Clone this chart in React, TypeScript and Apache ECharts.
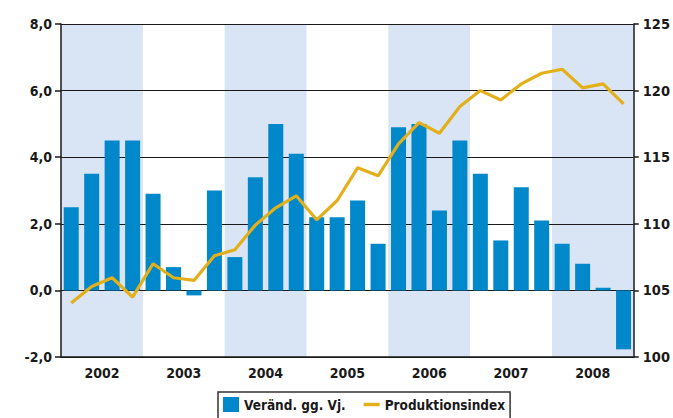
import React, { useEffect, useRef } from "react";
import * as echarts from "echarts";

const years = ["2002", "2003", "2004", "2005", "2006", "2007", "2008"];
const quarters = years.flatMap((y) => ["Q1", "Q2", "Q3", "Q4"].map((q) => `${y} ${q}`));
const changeValues = [
  2.5, 3.5, 4.5, 4.5,
  2.9, 0.7, -0.15, 3.0,
  1.0, 3.4, 5.0, 4.1,
  2.2, 2.2, 2.7, 1.4,
  4.9, 5.0, 2.4, 4.5,
  3.5, 1.5, 3.1, 2.1,
  1.4, 0.8, 0.08, -1.77,
];
const indexValues = [
  104.05, 105.3, 105.95, 104.5,
  107.0, 105.95, 105.75, 107.6,
  108.05, 109.9, 111.2, 112.1,
  110.3, 111.75, 114.2, 113.6,
  116.0, 117.6, 116.8, 118.8,
  120.0, 119.3, 120.5, 121.3,
  121.6, 120.2, 120.5, 119.0,
];
const shadedYears = [1, 0, 1, 0, 1, 0, 1];
const seriesNames = ["Veränd. gg. Vj.", "Produktionsindex"];

const FONT = "'Liberation Sans Narrow', 'DejaVu Sans Condensed', sans-serif";
const BAR = "#0088CB";
const LINE = "#E3AF1A";
const BAND = "#D9E5F4";
const INK = "#1a1a1a";

export default function App() {
  const ref = useRef<HTMLDivElement>(null);
  useEffect(() => {
    if (!ref.current) return;
    const chart = echarts.init(ref.current, null, { renderer: "svg" });
    chart.setOption({
      animation: false,
      textStyle: { fontFamily: FONT },
      grid: { left: 61, right: 32, top: 24, bottom: 61 },
      legend: {
        left: 218,
        top: 392,
        symbolKeepAspect: true,
        data: [
          { name: seriesNames[0], icon: "rect" },
          { name: seriesNames[1], icon: "path://M0,0H16V3.5H0Z" },
        ],
        itemWidth: 16,
        itemHeight: 15,
        itemGap: 18,
        padding: [5, 5, 9, 5],
        borderColor: "#333",
        borderWidth: 1.5,
        textStyle: { fontFamily: FONT, fontWeight: "bold", fontSize: 13.5, color: INK },
      },
      xAxis: [
        {
          type: "category",
          data: quarters,
          position: "bottom",
          axisLine: { show: true, onZero: false, lineStyle: { color: INK, width: 1.5 } },
          axisTick: { show: false },
          axisLabel: { show: false },
        },
        {
          type: "category",
          data: years,
          position: "bottom",
          axisLine: { show: false },
          axisTick: { show: false },
          axisLabel: { fontFamily: FONT, fontWeight: "bold", fontSize: 14, color: INK, margin: 9 },
        },
      ],
      yAxis: [
        {
          type: "value",
          min: -2,
          max: 8,
          interval: 2,
          axisLine: { show: true, lineStyle: { color: INK, width: 1.5 } },
          axisTick: { show: true, length: 6, lineStyle: { color: INK, width: 1.5 } },
          splitLine: { lineStyle: { color: INK, width: 1.2 } },
          axisLabel: {
            fontFamily: FONT,
            fontWeight: "bold",
            fontSize: 14,
            color: INK,
            margin: 9,
            formatter: (v: number) => v.toFixed(1).replace(".", ","),
          },
        },
        {
          type: "value",
          min: 100,
          max: 125,
          interval: 5,
          position: "right",
          axisLine: { show: true, lineStyle: { color: INK, width: 1.5 } },
          axisTick: { show: true, length: 5, lineStyle: { color: INK, width: 1.5 } },
          splitLine: { show: false },
          axisLabel: { fontFamily: FONT, fontWeight: "bold", fontSize: 14.5, color: INK, margin: 9 },
        },
        {
          type: "value",
          min: 0,
          max: 1,
          show: false,
        },
      ],
      series: [
        {
          name: "band",
          type: "bar",
          xAxisIndex: 1,
          yAxisIndex: 2,
          data: shadedYears,
          barWidth: "100%",
          itemStyle: { color: BAND },
          silent: true,
          z: -1,
        },
        {
          name: seriesNames[0],
          type: "bar",
          xAxisIndex: 0,
          yAxisIndex: 0,
          data: changeValues,
          barWidth: 15,
          itemStyle: { color: BAR },
          z: 2,
        },
        {
          name: seriesNames[1],
          type: "line",
          xAxisIndex: 0,
          yAxisIndex: 1,
          data: indexValues,
          showSymbol: false,
          symbol: "none",
          lineStyle: { color: LINE, width: 3.2 },
          itemStyle: { color: LINE },
          z: 3,
        },
      ],
    });
    return () => chart.dispose();
  }, []);
  return <div ref={ref} style={{ width: 673, height: 418, position: "absolute", left: 0, top: 0 }} />;
}
